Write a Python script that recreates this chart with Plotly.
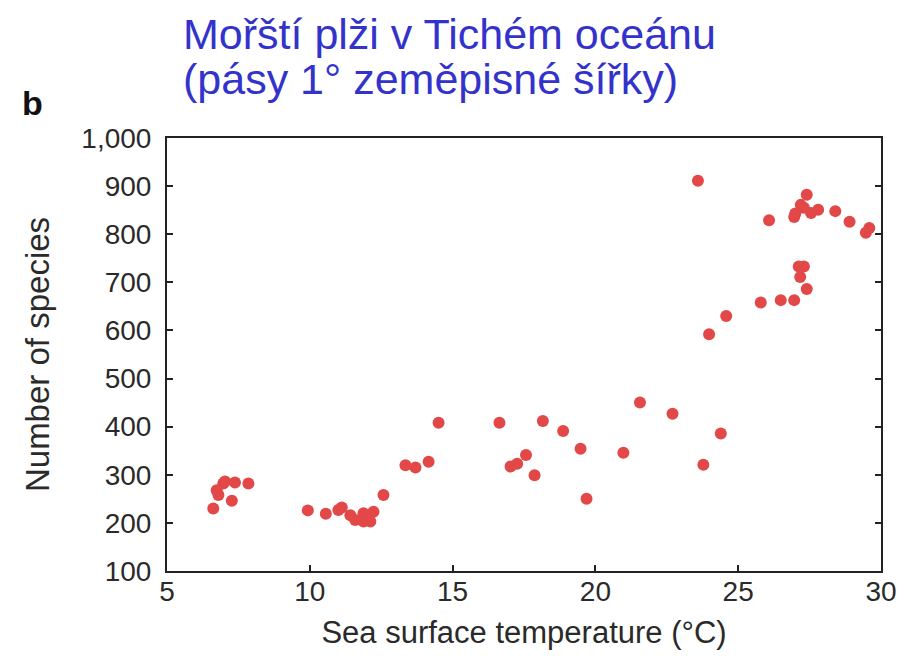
import plotly.graph_objects as go

# Sea surface temperature (°C)
sst = [6.62, 6.74, 6.80, 6.97, 7.03, 7.38, 7.27, 7.85,
       9.93, 10.56, 11.00, 11.12, 11.42, 11.59, 11.88, 11.88, 12.12, 12.23, 12.58,
       13.35, 13.70, 14.16, 14.51, 16.64, 17.03, 17.26, 17.57, 17.87, 18.16, 18.87,
       19.48, 19.69, 20.98, 21.56, 22.70, 23.78, 24.39,
       23.59, 23.98, 24.58, 25.79, 26.49, 26.96, 27.40, 27.17, 27.12, 27.30,
       26.08, 26.96, 27.00, 27.19, 27.40, 27.55, 27.30, 27.80, 28.40, 28.90, 29.47, 29.59]
# Number of species
species = [230, 268, 258, 282, 286, 284, 246, 282,
           226, 219, 227, 232, 216, 206, 220, 203, 203, 223, 258,
           320, 315, 327, 408, 408, 317, 323, 341, 299, 412, 391,
           354, 250, 346, 450, 427, 321, 386,
           911, 592, 630, 658, 663, 663, 686, 711, 733, 733,
           829, 836, 843, 861, 882, 844, 855, 851, 848, 826, 803, 813]

x_ticks = [5, 10, 15, 20, 25, 30]
y_ticks = [100, 200, 300, 400, 500, 600, 700, 800, 900, 1000]
y_labels = ["100", "200", "300", "400", "500", "600", "700", "800", "900", "1,000"]

FONT = "Liberation Sans, Arial, sans-serif"
OFF = 8  # page body margin
W, H = 901, 648
L, T = 167 - OFF, 138 - OFF
R = W - (882 - OFF)
B = H - (573 - OFF)
PW, PH = W - L - R, H - T - B

def px(xp):
    return (xp - OFF - L) / PW

def py(yp):
    return (H - B - (yp - OFF)) / PH

TXT = "#2a2a2a"

fig = go.Figure()
fig.add_trace(go.Scatter(
    x=sst, y=species, mode="markers",
    marker=dict(size=12, color="#e34848", line=dict(width=0)),
    hoverinfo="x+y", showlegend=False,
))

fig.update_layout(
    width=W, height=H,
    margin=dict(l=L, r=R, t=T, b=B),
    paper_bgcolor="white", plot_bgcolor="white",
    font=dict(family=FONT, color=TXT),
    xaxis=dict(
        range=[5, 30], tickvals=x_ticks, ticktext=[str(v) for v in x_ticks],
        showgrid=False, zeroline=False, showline=True, linecolor="#222", linewidth=2,
        mirror=True, ticks="inside", ticklen=6, tickwidth=2, tickcolor="#222",
        tickfont=dict(size=28, family=FONT, color=TXT), ticklabelstandoff=-6,
        title=dict(text="Sea surface temperature (°C)", font=dict(size=31, family=FONT, color=TXT), standoff=16),
    ),
    yaxis=dict(
        range=[100, 1000], tickvals=y_ticks, ticktext=y_labels,
        showgrid=False, zeroline=False, showline=True, linecolor="#222", linewidth=2,
        mirror="ticks", ticks="inside", ticklen=6, tickwidth=2, tickcolor="#222",
        tickfont=dict(size=28, family=FONT, color=TXT), ticklabelstandoff=8,
        title=dict(text="Number of species", font=dict(size=33, family=FONT, color=TXT), standoff=22),
    ),
    annotations=[
        dict(text="Mořští plži v Tichém oceánu",
             xref="paper", yref="paper", x=px(182), y=py(8), xanchor="left", yanchor="top",
             align="left", showarrow=False, borderpad=0,
             font=dict(size=43, family=FONT, color="#3333cc")),
        dict(text="(pásy 1° zeměpisné šířky)",
             xref="paper", yref="paper", x=px(182), y=py(54), xanchor="left", yanchor="top",
             align="left", showarrow=False, borderpad=0,
             font=dict(size=43, family=FONT, color="#3333cc")),
        dict(text="<b>b</b>", xref="paper", yref="paper", x=px(20), y=py(82),
             xanchor="left", yanchor="top", showarrow=False,
             font=dict(size=34, family=FONT, color="#111")),
    ],
)

fig.write_html("out.html")
